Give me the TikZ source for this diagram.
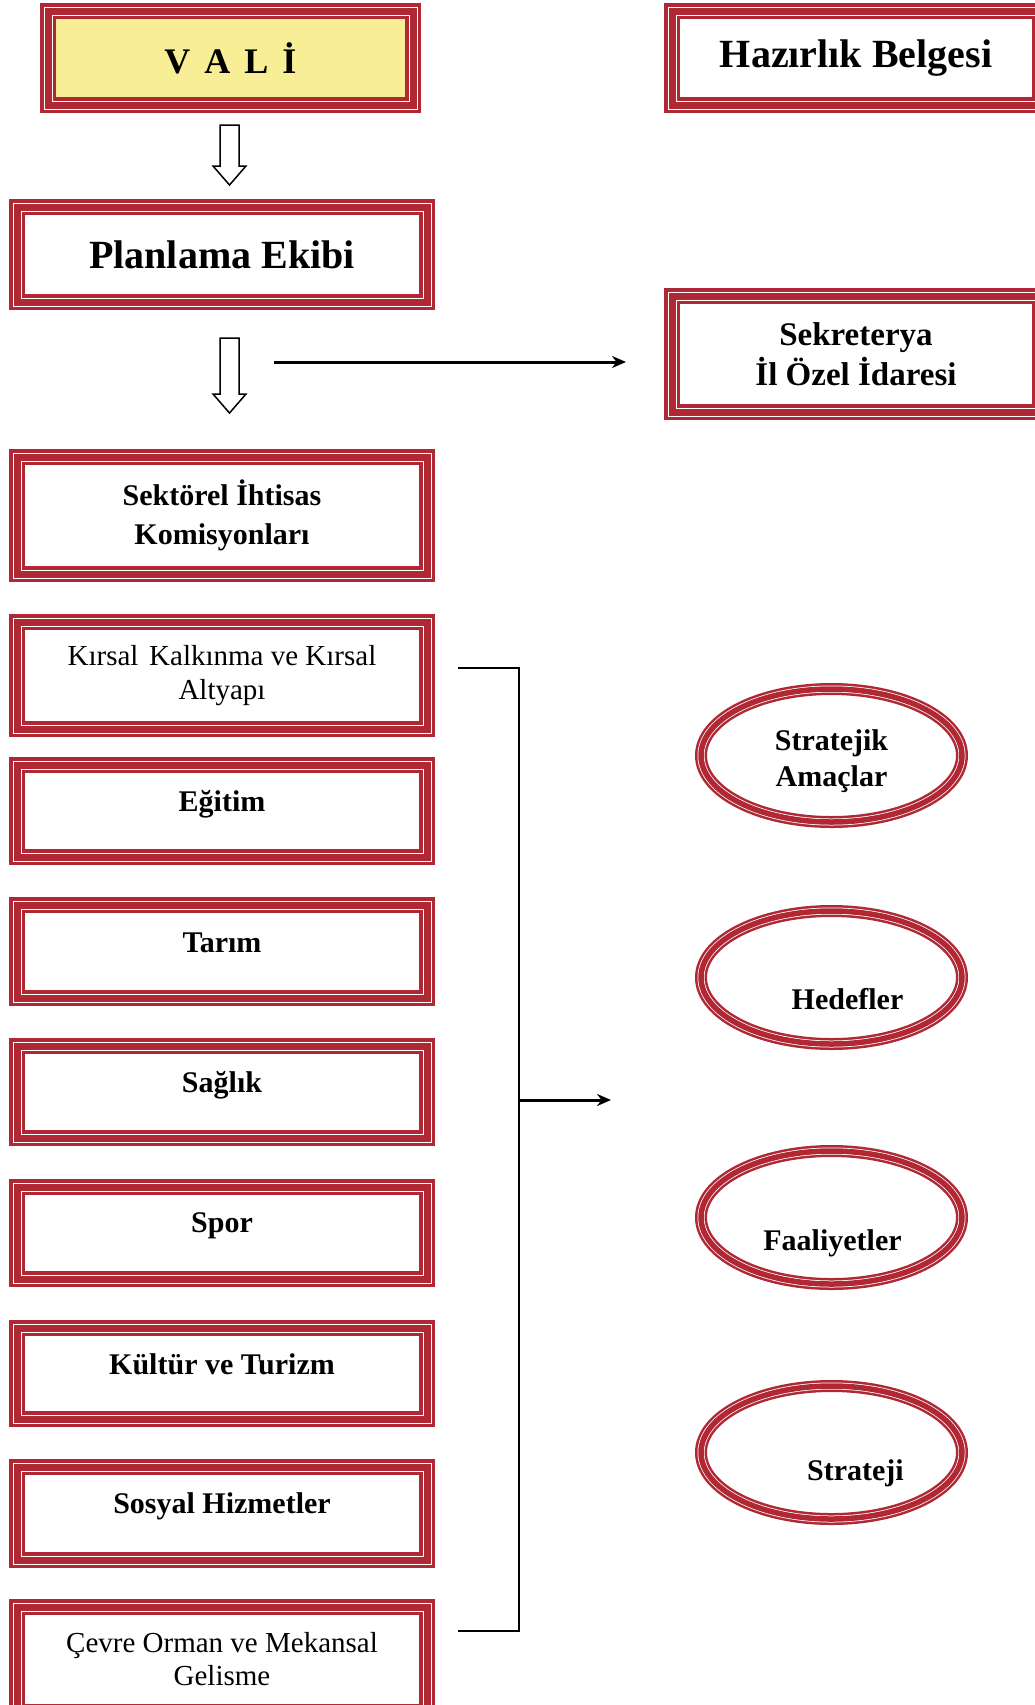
\documentclass[tikz,border=0pt]{standalone}
\usepackage{fontspec}
\setmainfont{Liberation Serif}
\usetikzlibrary{arrows.meta,calc,shapes.geometric}
\definecolor{fr}{RGB}{176,40,52}
\definecolor{vy}{RGB}{247,238,150}
\newcommand{\lift}[3]{\raisebox{#2}[\height][\depth]{\hspace*{#1}#3\hspace*{-#1}}}
\begin{document}
\begin{tikzpicture}[x=1pt,y=-1pt,
  frame/.style={rectangle, draw=fr, line width=16pt, fill=white, inner sep=0pt, align=center,
    minimum width=410pt, font=\bfseries\fontsize{30}{39}\selectfont,
    postaction={draw=white, line width=9pt},
    postaction={draw=fr, line width=7pt}},
  ring/.style={ellipse, draw=fr, line width=12pt, fill=white, inner sep=0pt, align=center,
    minimum width=261pt, minimum height=133pt, font=\bfseries\fontsize{30}{36}\selectfont,
    postaction={draw=white, line width=7pt},
    postaction={draw=fr, line width=5.5pt}},
  blk/.style={draw=black, fill=white, line width=1.5pt, line join=miter},
  conn/.style={draw=black, line width=3pt},
  tip/.style={-{Stealth[length=14pt,width=12pt]}}
]
\useasboundingbox (0,0) rectangle (1035,1705);
\clip (0,0) rectangle (1035,1705);
\fill[white] (0,0) rectangle (1035,1705);

% top boxes
\node[frame, fill=vy, minimum width=365pt, minimum height=94pt, font=\bfseries\fontsize{36}{40}\selectfont] (vali) at (230.5,58) {V\hspace{14pt}A\hspace{14pt}L\hspace{14pt}İ};
\node[frame, minimum width=368pt, minimum height=94pt, font=\bfseries\fontsize{40}{44}\selectfont] (hb) at (856,58) {Hazırlık Belgesi};
\node[frame, minimum height=95pt, font=\bfseries\fontsize{40}{44}\selectfont] (plan) at (222,254.5) {Planlama Ekibi};
\node[frame, minimum width=368pt, minimum height=116pt, font=\bfseries\fontsize{33}{40}\selectfont] (sek) at (856,354) {Sekreterya\\İl Özel İdaresi};
\node[frame, minimum height=117pt] (sik) at (222,515.5) {Sektörel İhtisas\\Komisyonları};

% commission boxes
\node[frame, minimum height=107pt, font=\fontsize{29}{34}\selectfont] (kir) at (222,675.5) {Kırsal\hspace{0.12em} Kalkınma ve Kırsal\\Altyapı};
\node[frame, minimum height=92pt] (egi) at (222,811) {\lift{0pt}{7pt}{Eğitim}};
\node[frame, minimum height=93pt] (tar) at (222,951.5) {\lift{0pt}{9pt}{Tarım}};
\node[frame, minimum height=92pt] (sag) at (222,1092) {\lift{0pt}{7pt}{Sağlık}};
\node[frame, minimum height=92pt] (spo) at (222,1233) {\lift{0pt}{7pt}{Spor}};
\node[frame, minimum height=91pt] (kul) at (222,1373.5) {\lift{0pt}{9pt}{Kültür ve Turizm}};
\node[frame, minimum height=93pt] (sos) at (222,1513.5) {\lift{0pt}{7pt}{Sosyal Hizmetler}};
\node[frame, minimum height=105pt, font=\fontsize{29}{33}\selectfont] (cev) at (222,1659.5) {Çevre Orman ve Mekansal\\Gelisme};

% ellipses
\node[ring] (sa) at (831.5,755.5) {\lift{0pt}{-6pt}{\begin{tabular}{@{}c@{}}Stratejik\\Amaçlar\end{tabular}}};
\node[ring] (hed) at (831.5,977.5) {\lift{16pt}{-22pt}{Hedefler}};
\node[ring] (faa) at (831.5,1217.5) {\lift{1pt}{-26pt}{Faaliyetler}};
\node[ring] (str) at (831.5,1452.5) {\lift{24pt}{-21pt}{Strateji}};

% open block arrows
\draw[blk] (220,125) -- (239,125) -- (239,166) -- (246,166) -- (229.5,185) -- (213,166) -- (220,166) -- cycle;
\draw[blk] (220,338) -- (239,338) -- (239,394) -- (246,394) -- (229.5,413) -- (213,394) -- (220,394) -- cycle;

% arrow to Sekreterya
\coordinate (h1) at (274,362);
\coordinate (h2) at ($(sek.west)+(-38,8)$);
\draw[conn, tip] (h1) -- (h2);

% bracket
\coordinate (bt0) at ($(kir.east)+(23,-7.5)$);
\coordinate (bt1) at (519,668);
\coordinate (bb0) at ($(cev.east)+(23,-28.5)$);
\coordinate (bb1) at (519,1631);
\coordinate (bm) at (519,1100);
\coordinate (be) at (611,1100);
\draw[conn, line width=2.5pt, line join=miter] (bt0) -- (bt1) -- (bb1) -- (bb0);
\draw[conn, tip] (bm) -- (be);
\end{tikzpicture}
\end{document}
